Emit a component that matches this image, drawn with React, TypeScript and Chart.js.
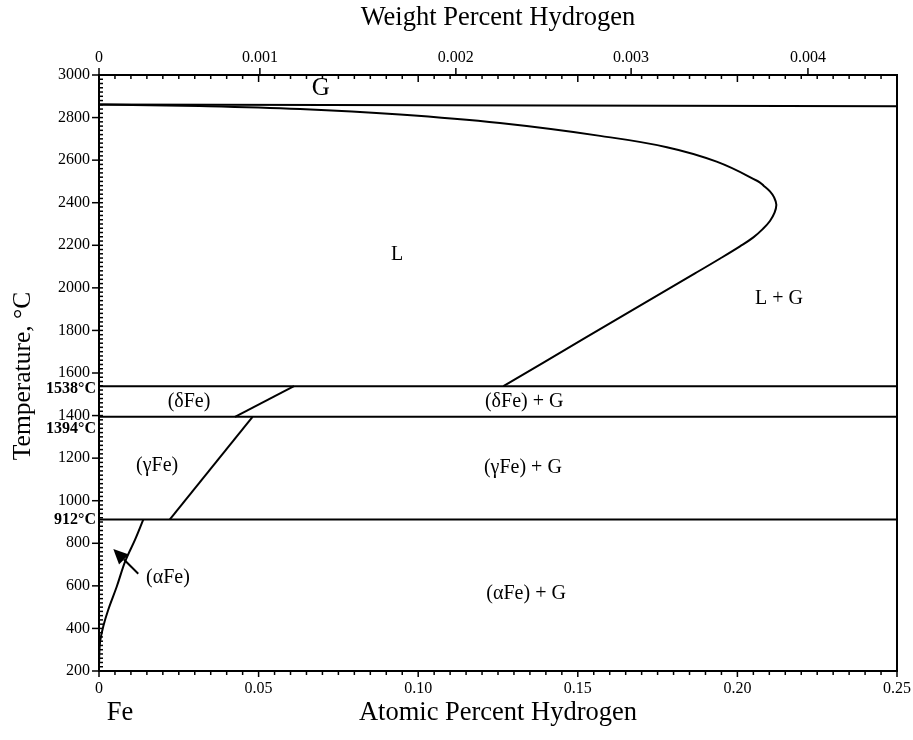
import { useEffect, useRef } from 'react';
import { Chart, registerables } from 'chart.js';

Chart.register(...registerables);

// ---- data ----
const xTickValues = [0, 0.05, 0.1, 0.15, 0.2, 0.25];
const xTickLabels = ['0', '0.05', '0.10', '0.15', '0.20', '0.25'];
// weight-percent ticks on top axis, located at these atomic-percent positions (as drawn)
const topTickAt = [0, 0.0504, 0.1118, 0.1667, 0.2221];
const topTickLabels = ['0', '0.001', '0.002', '0.003', '0.004'];
const yTickValues = [200, 400, 600, 800, 1000, 1200, 1400, 1600, 1800, 2000, 2200, 2400, 2600, 2800, 3000];

const boilingLine = [{ x: 0, y: 2861 }, { x: 0.25, y: 2853 }];
const liquidus = [
  { x: 0, y: 2861 }, { x: 0.0315, y: 2854 }, { x: 0.063, y: 2840 }, { x: 0.0943, y: 2814 },
  { x: 0.1256, y: 2774 }, { x: 0.157, y: 2714 }, { x: 0.1779, y: 2661 }, { x: 0.1935, y: 2593 },
  { x: 0.2063, y: 2502 }, { x: 0.2083, y: 2479 }, { x: 0.2102, y: 2453 }, { x: 0.2115, y: 2425 },
  { x: 0.2122, y: 2390 }, { x: 0.2116, y: 2352 }, { x: 0.2102, y: 2314 }, { x: 0.208, y: 2277 },
  { x: 0.205, y: 2237 }, { x: 0.2008, y: 2195 }, { x: 0.1946, y: 2138 }, { x: 0.1867, y: 2068 },
  { x: 0.1779, y: 1991 }, { x: 0.1523, y: 1765 }, { x: 0.1267, y: 1538 },
];
const line1538 = [{ x: 0, y: 1538 }, { x: 0.25, y: 1538 }];
const deltaSolvus = [{ x: 0.0611, y: 1538 }, { x: 0.0426, y: 1394 }];
const line1394 = [{ x: 0, y: 1394 }, { x: 0.25, y: 1394 }];
const gammaSolvus = [{ x: 0.0481, y: 1394 }, { x: 0.0222, y: 912 }];
const line912 = [{ x: 0, y: 912 }, { x: 0.25, y: 912 }];
const alphaSolvus = [
  { x: 0.0139, y: 912 }, { x: 0.0113, y: 817 }, { x: 0.0082, y: 715 }, { x: 0.0056, y: 598 },
  { x: 0.0029, y: 488 }, { x: 0.00135, y: 410 }, { x: 0.0003, y: 332 }, { x: 0, y: 230 },
];
const arrowTail = { x: 0.0123, y: 657 };
const arrowTip = { x: 0.00448, y: 773 };

const tempMarks = [1538, 1394, 912];
const tempMarkLabels = ['1538°C', '1394°C', '912°C'];

const regionLabels = [
  { text: 'G', x: 0.0695, y: 2939 },
  { text: 'L', x: 0.0934, y: 2155 },
  { text: 'L + G', x: 0.213, y: 1948 },
  { text: '(δFe)', x: 0.0282, y: 1465 },
  { text: '(δFe) + G', x: 0.1332, y: 1465 },
  { text: '(γFe)', x: 0.0182, y: 1164 },
  { text: '(γFe) + G', x: 0.1328, y: 1155 },
  { text: '(αFe)', x: 0.0216, y: 639 },
  { text: '(αFe) + G', x: 0.1338, y: 563 },
];

const SERIF = '"Liberation Serif", "Times New Roman", serif';

const decorPlugin = {
  id: 'decor',
  afterDatasetsDraw(chart: any) {
    const { ctx, scales } = chart;
    const xs = scales.x;
    const ys = scales.y;
    const area = chart.chartArea;
    ctx.save();
    ctx.strokeStyle = '#000';
    ctx.fillStyle = '#000';
    ctx.lineWidth = 1.5;

    // bottom & top atomic-percent ticks
    for (let i = 0; i <= 50; i++) {
      const v = i * 0.005;
      const px = xs.getPixelForValue(v);
      const major = i % 10 === 0;
      ctx.beginPath();
      ctx.moveTo(px, area.bottom);
      ctx.lineTo(px, area.bottom + (major ? 6 : 4));
      ctx.moveTo(px, area.top);
      ctx.lineTo(px, area.top + (major ? 7 : 4));
      ctx.stroke();
    }
    // top weight-percent ticks (upward)
    topTickAt.forEach((v) => {
      const px = xs.getPixelForValue(v);
      ctx.beginPath();
      ctx.moveTo(px, area.top);
      ctx.lineTo(px, area.top - 7);
      ctx.stroke();
    });
    // left axis ticks
    for (let t = 200; t <= 3000; t += 20) {
      const py = ys.getPixelForValue(t);
      ctx.beginPath();
      if (t % 200 === 0) {
        ctx.moveTo(area.left - 7, py);
        ctx.lineTo(area.left + 4, py);
      } else {
        ctx.moveTo(area.left, py);
        ctx.lineTo(area.left + 4, py);
      }
      ctx.stroke();
    }

    // arrow
    const tx = xs.getPixelForValue(arrowTail.x);
    const ty = ys.getPixelForValue(arrowTail.y);
    const hx = xs.getPixelForValue(arrowTip.x);
    const hy = ys.getPixelForValue(arrowTip.y);
    const ang = Math.atan2(hy - ty, hx - tx);
    const hl = 15, hw = 7;
    const bx = hx - hl * Math.cos(ang);
    const by = hy - hl * Math.sin(ang);
    ctx.lineWidth = 2;
    ctx.beginPath();
    ctx.moveTo(tx, ty);
    ctx.lineTo(bx, by);
    ctx.stroke();
    ctx.beginPath();
    ctx.moveTo(hx, hy);
    ctx.lineTo(bx + hw * Math.sin(ang), by - hw * Math.cos(ang));
    ctx.lineTo(bx - hw * Math.sin(ang), by + hw * Math.cos(ang));
    ctx.closePath();
    ctx.fill();

    // region labels
    ctx.textAlign = 'center';
    ctx.textBaseline = 'middle';
    regionLabels.forEach((l) => {
      ctx.font = (l.text === 'G' ? '25px ' : '20px ') + SERIF;
      ctx.fillText(l.text, xs.getPixelForValue(l.x), ys.getPixelForValue(l.y));
    });

    // temperature marks
    const markOffsets = [3, 12, 0];
    ctx.font = 'bold 16px ' + SERIF;
    ctx.textAlign = 'right';
    tempMarks.forEach((t, i) => {
      ctx.fillText(tempMarkLabels[i], area.left - 3, ys.getPixelForValue(t) + markOffsets[i]);
    });

    // titles
    ctx.font = '26.5px ' + SERIF;
    ctx.textAlign = 'center';
    const cx = (area.left + area.right) / 2;
    ctx.fillText('Weight Percent Hydrogen', cx, 18);
    ctx.fillText('Atomic Percent Hydrogen', cx, 713);
    ctx.fillText('Fe', 120, 713);
    ctx.font = '25.5px ' + SERIF;
    ctx.save();
    ctx.translate(23, 376);
    ctx.rotate(-Math.PI / 2);
    ctx.fillText('Temperature, °C', 0, 0);
    ctx.restore();

    ctx.restore();
  },
};

function line(data: any[], tension = 0) {
  return {
    data,
    showLine: true,
    borderColor: '#000',
    borderWidth: 2,
    pointRadius: 0,
    tension,
    fill: false,
  };
}

const noSidePadding = (s: any) => {
  s.paddingLeft = 0;
  s.paddingRight = 0;
};

export default function App() {
  const ref = useRef<HTMLCanvasElement | null>(null);
  useEffect(() => {
    if (!ref.current) return;
    const tickFont = { family: SERIF, size: 16 };
    const chart = new Chart(ref.current, {
      type: 'scatter',
      data: {
        datasets: [
          line(boilingLine),
          line(liquidus, 0.4),
          line(line1538),
          line(deltaSolvus),
          line(line1394),
          line(gammaSolvus),
          line(line912),
          line(alphaSolvus, 0.35),
        ] as any,
      },
      options: {
        responsive: false,
        animation: false,
        events: [],
        layout: { padding: 0 },
        plugins: { legend: { display: false }, tooltip: { enabled: false } },
        scales: {
          x: {
            type: 'linear',
            position: 'bottom',
            min: 0,
            max: 0.25,
            grid: { display: false, drawTicks: false },
            border: { display: true, color: '#000', width: 2 },
            afterBuildTicks: (s: any) => { s.ticks = xTickValues.map((v) => ({ value: v })); },
            afterFit: (s: any) => { s.height = 69; noSidePadding(s); },
            ticks: {
              color: '#000',
              font: tickFont,
              padding: 8,
              maxRotation: 0,
              autoSkip: false,
              callback: (_v: any, i: number) => xTickLabels[i],
            },
          },
          x2: {
            type: 'linear',
            position: 'top',
            min: 0,
            max: 0.25,
            grid: { display: false, drawTicks: false },
            border: { display: true, color: '#000', width: 2 },
            afterBuildTicks: (s: any) => { s.ticks = topTickAt.map((v) => ({ value: v })); },
            afterFit: (s: any) => { s.height = 75; noSidePadding(s); },
            ticks: {
              color: '#000',
              font: tickFont,
              padding: 8,
              maxRotation: 0,
              autoSkip: false,
              callback: (_v: any, i: number) => topTickLabels[i],
            },
          },
          y: {
            type: 'linear',
            position: 'left',
            min: 200,
            max: 3000,
            grid: { display: false, drawTicks: false },
            border: { display: true, color: '#000', width: 2 },
            afterBuildTicks: (s: any) => { s.ticks = yTickValues.map((v) => ({ value: v })); },
            afterFit: (s: any) => { s.width = 99; s.paddingTop = 0; s.paddingBottom = 0; },
            ticks: {
              color: '#000',
              font: tickFont,
              padding: 9,
              autoSkip: false,
              callback: (v: any) => String(v),
            },
          },
          y2: {
            type: 'linear',
            position: 'right',
            min: 200,
            max: 3000,
            grid: { display: false, drawTicks: false },
            border: { display: true, color: '#000', width: 2 },
            afterFit: (s: any) => { s.width = 16; },
            ticks: { display: false },
          },
        },
      } as any,
      plugins: [decorPlugin],
    });
    return () => chart.destroy();
  }, []);
  return (
    <div style={{ position: 'absolute', left: 0, top: 0, width: 913, height: 740, background: '#fff' }}>
      <canvas ref={ref} width={913} height={740} style={{ display: 'block' }} />
    </div>
  );
}
